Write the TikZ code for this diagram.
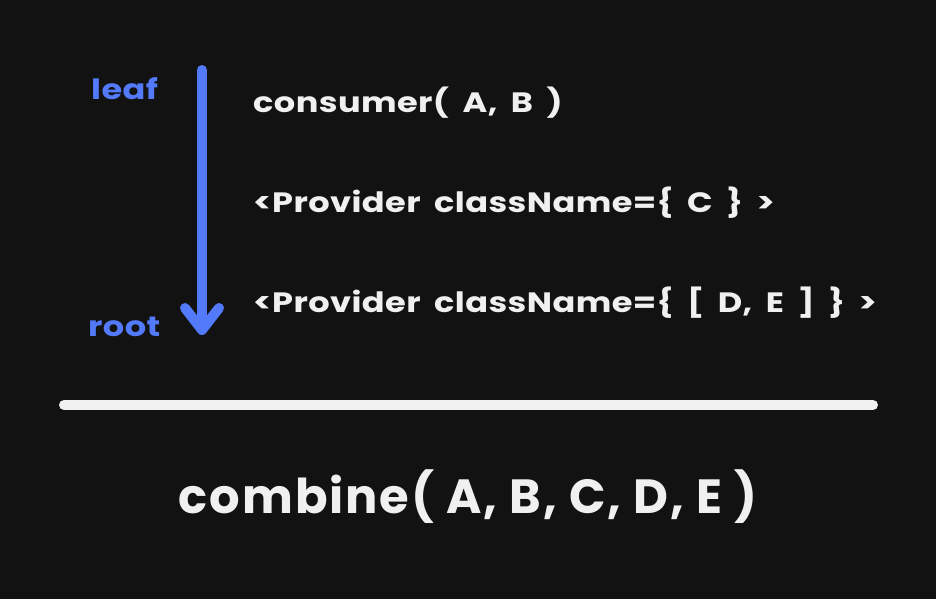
\documentclass[tikz,border=0pt]{standalone}
\usepackage{fontspec}
\setmainfont{Poppins}
\usetikzlibrary{arrows.meta}
\definecolor{bgdark}{RGB}{18,18,18}
\definecolor{chalk}{RGB}{240,240,240}
\definecolor{flowblue}{RGB}{82,122,250}
\newfontfamily\sketchfont[FakeStretch=1.2, WordSpace=1.8, LetterSpace=1.5]{Poppins}

\begin{document}
\begin{tikzpicture}[x=1pt, y=-1pt,
    codeline/.style={anchor=west, text=chalk, font=\sketchfont\fontsize{28}{32}\selectfont\bfseries, inner sep=0pt},
    sidelabel/.style={anchor=west, text=flowblue, font=\sketchfont\fontsize{28}{32}\selectfont\bfseries, inner sep=0pt}]
    \fill[bgdark] (0,0) rectangle (936,599);
    \useasboundingbox (0,0) rectangle (936,599);

    \node[sidelabel] (leaf) at ( 91, 89) {leaf};
    \node[sidelabel] (root) at ( 88, 327) {root};

    \coordinate (flowtop) at (202, 70);
    \coordinate (flowbot) at (202, 335);
    \draw[flowblue, line width=10pt, line cap=round, -{Straight Barb[length=22pt, width=34pt, round]}] (flowtop) -- (flowbot);

    \node[codeline] (consumer) at (253, 103) {consumer( A, B )};
    \node[codeline] (provC)    at (253, 203) {<Provider className=\{ C \} >};
    \node[codeline] (provDE)   at (253, 303) {<Provider className=\{ [ D, E ] \} >};

    \coordinate (ruleL) at ( 64, 405);
    \coordinate (ruleR) at (873, 405);
    \draw[chalk, line width=10pt, line cap=round] (ruleL) -- (ruleR);

    \node[codeline, anchor=center, font=\fontsize{48}{52}\selectfont\bfseries\addfontfeatures{LetterSpace=4}] (combine) at (468, 497) {combine( A, B, C, D, E )};
\end{tikzpicture}
\end{document}
